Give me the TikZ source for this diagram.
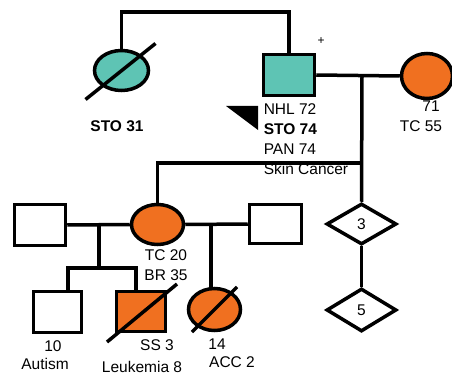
\documentclass[tikz,border=0pt]{standalone}
\usepackage{fontspec}
\setmainfont{Liberation Sans}
\usepackage{tikz}
\usetikzlibrary{shapes.geometric,calc}
\definecolor{pedteal}{RGB}{94,196,180}
\definecolor{pedorange}{RGB}{240,112,32}

\begin{document}
\begin{tikzpicture}[x=1pt, y=-1pt, line width=3.5pt,
    male/.style={draw, rectangle, inner sep=0pt},
    female/.style={draw, ellipse, inner sep=0pt},
    unknown/.style={draw, diamond, inner sep=0pt, minimum width=70pt, minimum height=41pt},
    lbl/.style={inner sep=0pt, font=\fontsize{15.5}{20}\selectfont}]
    \useasboundingbox (0,0) rectangle (452,377);
    % first generation
    \node[female, fill=pedteal, minimum width=54pt, minimum height=40pt] (sto31) at (121.5,70.5) {};
    \node[male, fill=pedteal, minimum width=51pt, minimum height=41pt] (sto74) at (289,75) {};
    \node[female, fill=pedorange, minimum width=51pt, minimum height=45pt] (tc55) at (427,76) {};
    \draw (sto31.north) -- (sto31.north |- 0,12) -| (sto74.north);
    \draw (sto74.east) -- (tc55.west);
    \draw ($(sto31.center)+(-36,29)$) -- ($(sto31.center)+(34,-27)$);
    \fill (226,106) -- (258,106) -- (258,130) -- cycle;
    \node[lbl, font=\fontsize{15.5}{20}\selectfont\bfseries] (l31) at (117,126) {STO 31};
    \node[lbl, font=\fontsize{12}{14}\selectfont] (plus) at (321,41) {+};
    \node[lbl, align=left, anchor=north west] (l74) at (262,101.5) {NHL 72\\\textbf{STO 74}\\PAN 74\\Skin Cancer};
    \node[lbl] (l71) at (431,106) {71};
    \node[lbl] (l55) at (421,126) {TC 55};
    % second generation
    \coordinate (m1) at (362,76);
    \coordinate (sib) at (362,163);
    \node[male, minimum width=51pt, minimum height=41pt] (husb1) at (40,225) {};
    \node[female, fill=pedorange, minimum width=52pt, minimum height=40pt] (tc20) at (157.5,224.5) {};
    \node[male, minimum width=52pt, minimum height=39pt] (husb2) at (275.5,224) {};
    \node[unknown] (dia3) at (361.5,224) {\fontsize{15.5}{20}\selectfont 3};
    \node[unknown, minimum height=43pt] (dia5) at (361.5,310) {\fontsize{15.5}{20}\selectfont 5};
    \draw (m1) -- (dia3.north);
    \draw (sib) -| (tc20.north);
    \draw (husb1.east) -- (tc20.west);
    \draw (tc20.east) -- (husb2.west);
    \draw (dia3.south) -- (dia5.north);
    \node[lbl] (l20) at (166,255) {TC 20};
    \node[lbl] (l35) at (166,275) {BR 35};
    % third generation
    \coordinate (m2) at (99,224);
    \coordinate (s2) at (99,268);
    \coordinate (c10) at (68,290);
    \coordinate (c3) at (136,290);
    \coordinate (m3) at (211,224);
    \node[male, minimum width=48pt, minimum height=41pt] (son10) at (57.5,312) {};
    \node[male, fill=pedorange, minimum width=49pt, minimum height=40pt] (son3) at (141,311.5) {};
    \node[female, fill=pedorange, minimum width=52pt, minimum height=42pt] (dau14) at (214.5,309.5) {};
    \draw (m2) -- (s2);
    \draw (c10) |- (c3 |- s2) -- (c3);
    \draw (m3) -- (m3 |- dau14.north);
    \draw ($(son3.center)+(-34,30.5)$) -- ($(son3.center)+(36,-27.5)$);
    \draw ($(dau14.center)+(-22.5,22.5)$) -- ($(dau14.center)+(22.5,-22.5)$);
    \node[lbl] (l10) at (53,346) {10};
    \node[lbl] (laut) at (45,364) {Autism};
    \node[lbl] (lss) at (157,345) {SS 3};
    \node[lbl] (lleu) at (142,367) {Leukemia 8};
    \node[lbl] (l14) at (217,344) {14};
    \node[lbl] (lacc) at (232,362) {ACC 2};
\end{tikzpicture}
\end{document}
